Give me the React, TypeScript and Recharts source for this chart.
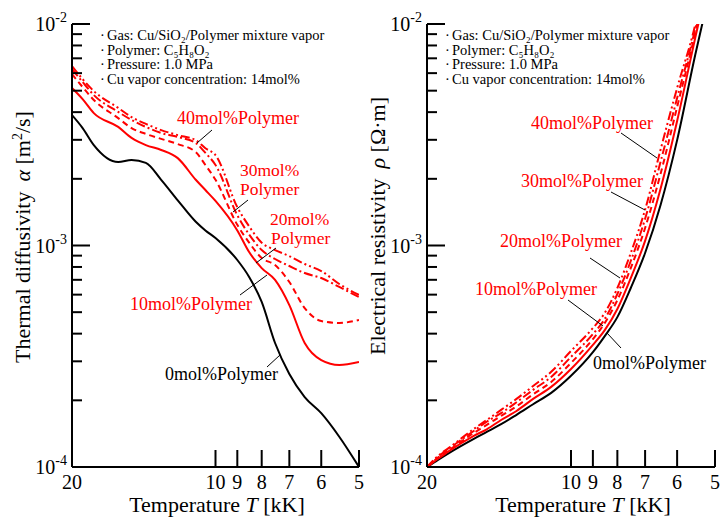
import React from "react";
import { LineChart, Line, XAxis, YAxis } from "recharts";

// temperature grid [kK] for each panel
const leftTemps = [20, 19, 18, 16, 15, 14, 13, 12, 11, 10.5, 10, 9, 8.5, 8, 7.5, 7, 6.5, 6, 5.5, 5];
const rightTemps = [20, 19, 18, 16, 15, 14, 13, 12, 11, 10, 9, 8.5, 8, 7.5, 7, 6.5, 6, 5.5, 5.3];

// thermal diffusivity alpha [m2/s]
const alpha0 = [3.88e-3, 3.39e-3, 2.84e-3, 2.38e-3, 2.43e-3, 2.36e-3, 1.98e-3, 1.6e-3, 1.28e-3, 1.17e-3, 1.08e-3, 8.6e-4, 7.21e-4, 5.56e-4, 3.63e-4, 2.63e-4, 2.07e-4, 1.75e-4, 1.37e-4, 1.0e-4];
const alpha10 = [5.14e-3, 4.58e-3, 3.96e-3, 3.43e-3, 3.06e-3, 2.84e-3, 2.7e-3, 2.48e-3, 1.98e-3, 1.78e-3, 1.59e-3, 1.17e-3, 9.34e-4, 7.91e-4, 6.99e-4, 5.38e-4, 3.63e-4, 3.04e-4, 2.89e-4, 2.98e-4];
const alpha20 = [5.94e-3, 5.19e-3, 4.54e-3, 3.76e-3, 3.39e-3, 3.19e-3, 3.03e-3, 2.87e-3, 2.64e-3, 2.31e-3, 1.98e-3, 1.24e-3, 1.03e-3, 8.78e-4, 8.16e-4, 6.84e-4, 5.22e-4, 4.56e-4, 4.47e-4, 4.61e-4];
const alpha30 = [6.26e-3, 5.47e-3, 4.78e-3, 4.01e-3, 3.69e-3, 3.43e-3, 3.22e-3, 3.09e-3, 2.9e-3, 2.62e-3, 2.31e-3, 1.37e-3, 1.12e-3, 9.54e-4, 8.69e-4, 8.08e-4, 7.51e-4, 7.13e-4, 6.5e-4, 5.85e-4];
const alpha40 = [6.46e-3, 5.64e-3, 4.98e-3, 4.18e-3, 3.8e-3, 3.54e-3, 3.32e-3, 3.15e-3, 2.99e-3, 2.75e-3, 2.56e-3, 1.49e-3, 1.22e-3, 1.03e-3, 9.54e-4, 8.96e-4, 8.25e-4, 7.67e-4, 6.7e-4, 5.98e-4];

// electrical resistivity rho [Ohm m]
const rho0 = [1.0e-4, 1.075e-4, 1.156e-4, 1.337e-4, 1.44e-4, 1.56e-4, 1.72e-4, 1.92e-4, 2.16e-4, 2.58e-4, 3.3e-4, 3.9e-4, 4.75e-4, 6.43e-4, 9.25e-4, 1.52e-3, 2.99e-3, 7.24e-3, 1.03e-2];
const rho10 = [1.0e-4, 1.086e-4, 1.18e-4, 1.38e-4, 1.48e-4, 1.63e-4, 1.79e-4, 2.03e-4, 2.3e-4, 2.77e-4, 3.56e-4, 4.15e-4, 5.17e-4, 7.13e-4, 1.05e-3, 1.8e-3, 3.65e-3, 8.65e-3, 1.23e-2];
const rho20 = [1.0e-4, 1.1e-4, 1.19e-4, 1.42e-4, 1.55e-4, 1.7e-4, 1.88e-4, 2.13e-4, 2.42e-4, 2.95e-4, 3.78e-4, 4.47e-4, 5.67e-4, 7.91e-4, 1.2e-3, 2.1e-3, 4.22e-3, 9.11e-3, 1.3e-2];
const rho30 = [1.0e-4, 1.11e-4, 1.21e-4, 1.45e-4, 1.6e-4, 1.75e-4, 1.96e-4, 2.23e-4, 2.55e-4, 3.14e-4, 3.98e-4, 4.66e-4, 6.04e-4, 8.51e-4, 1.32e-3, 2.38e-3, 4.63e-3, 9.49e-3, 1.35e-2];
const rho40 = [1.0e-4, 1.12e-4, 1.22e-4, 1.48e-4, 1.63e-4, 1.81e-4, 2.03e-4, 2.32e-4, 2.69e-4, 3.34e-4, 4.24e-4, 4.96e-4, 6.43e-4, 9.25e-4, 1.45e-3, 2.7e-3, 5.14e-3, 9.9e-3, 1.42e-2];

// ticks
const tempTicks = [20, 10, 9, 8, 7, 6, 5];
const logTicks = [
  1e-4, 2e-4, 3e-4, 4e-4, 5e-4, 6e-4, 7e-4, 8e-4, 9e-4,
  1e-3, 2e-3, 3e-3, 4e-3, 5e-3, 6e-3, 7e-3, 8e-3, 9e-3, 1e-2,
];

// condition notes shown in both panels
const infoLines = [
  "Gas: Cu/SiO₂/Polymer mixture vapor",
  "Polymer: C₅H₈O₂",
  "Pressure: 1.0 MPa",
  "Cu vapor concentration: 14mol%",
];

const FONT = '"Liberation Serif", "Times New Roman", serif';
const RED = "#ff0000";

// line styles
const series = [
  { key: "p0", color: "#000", dash: undefined as string | undefined },
  { key: "p10", color: RED, dash: undefined },
  { key: "p20", color: RED, dash: "6 4" },
  { key: "p30", color: RED, dash: "9 3 2 3" },
  { key: "p40", color: RED, dash: "9 3 2 3 2 3" },
];

const leftRows = leftTemps.map((T, i) => ({
  T, p0: alpha0[i], p10: alpha10[i], p20: alpha20[i], p30: alpha30[i], p40: alpha40[i],
}));
const rightRows = rightTemps.map((T, i) => ({
  T, p0: rho0[i], p10: rho10[i], p20: rho20[i], p30: rho30[i], p40: rho40[i],
}));

// inward y ticks, labels only on decades
const YTick = (props: any) => {
  const { x, y, payload } = props;
  const lg = Math.log10(payload.value);
  const exp = Math.round(lg);
  const major = Math.abs(lg - exp) < 1e-6;
  return (
    <g>
      <line x1={x} y1={y} x2={x + (major ? 18 : 10)} y2={y} stroke="#000" strokeWidth={2} />
      {major && (
        <text x={x - 5} y={y + 7} textAnchor="end" fontFamily={FONT} fontSize={20} fill="#000">
          10<tspan dy={-9} fontSize={14}>{exp}</tspan>
        </text>
      )}
    </g>
  );
};

// inward x ticks
const XTick = (props: any) => {
  const { x, y, payload } = props;
  return (
    <g>
      {payload.value !== 20 && (
        <line x1={x} y1={y} x2={x} y2={y - 17} stroke="#000" strokeWidth={2} />
      )}
      <text x={x} y={y + 22} textAnchor="middle" fontFamily={FONT} fontSize={20} fill="#000">
        {payload.value}
      </text>
    </g>
  );
};

const Panel = ({ rows, width, margin }: { rows: any[]; width: number; margin: any }) => (
  <LineChart width={width} height={520} data={rows} margin={margin}>
    <XAxis
      dataKey="T"
      type="number"
      scale="log"
      domain={[5, 20]}
      reversed
      allowDataOverflow
      ticks={tempTicks}
      interval={0}
      tick={XTick}
      tickLine={false}
      tickSize={0}
      tickMargin={0}
      height={30}
      axisLine={{ stroke: "#000", strokeWidth: 2 }}
    />
    <YAxis
      type="number"
      scale="log"
      domain={[1e-4, 1e-2]}
      allowDataOverflow
      ticks={logTicks}
      interval={0}
      tick={YTick}
      tickLine={false}
      tickSize={0}
      tickMargin={0}
      width={60}
      axisLine={{ stroke: "#000", strokeWidth: 2 }}
    />
    {series.map((s) => (
      <Line
        key={s.key}
        dataKey={s.key}
        type="monotone"
        stroke={s.color}
        strokeWidth={2}
        strokeDasharray={s.dash}
        dot={false}
        isAnimationActive={false}
      />
    ))}
  </LineChart>
);

const Info = ({ x }: { x: number }) => {
  const ys = [40, 54.5, 69, 84];
  return (
    <g fontFamily={FONT} fontSize={14.5} fill="#000">
      {infoLines.map((t, i) => (
        <React.Fragment key={t}>
          <text x={x - 7} y={ys[i]}>·</text>
          <text x={x} y={ys[i]}>{t}</text>
        </React.Fragment>
      ))}
    </g>
  );
};

const Leader = ({ p }: { p: number[] }) => (
  <line x1={p[0]} y1={p[1]} x2={p[2]} y2={p[3]} stroke="#000" strokeWidth={1} />
);

const Overlay = () => (
  <svg
    width={726}
    height={520}
    style={{ position: "absolute", left: 0, top: 0, pointerEvents: "none" }}
  >
    <Info x={107} />
    <Info x={452} />

    {/* left panel labels */}
    <g fontFamily={FONT} fontSize={18} fill={RED}>
      <text x={177} y={124}>40mol%Polymer</text>
      <text x={130} y={310}>10mol%Polymer</text>
      <text x={165} y={380} fill="#000">0mol%Polymer</text>
    </g>
    <g fontFamily={FONT} fontSize={17.5} fill={RED}>
      <text x={240} y={176}>30mol%</text>
      <text x={240} y={195}>Polymer</text>
      <text x={270} y={225}>20mol%</text>
      <text x={271} y={244}>Polymer</text>
    </g>
    <Leader p={[212, 130, 197, 143]} />
    <Leader p={[248, 200, 233, 212]} />
    <Leader p={[276, 248, 256, 263]} />
    <Leader p={[240, 295, 267, 275]} />
    <Leader p={[267, 367, 280, 355]} />

    {/* right panel labels */}
    <g fontFamily={FONT} fontSize={18} fill={RED}>
      <text x={531} y={129}>40mol%Polymer</text>
      <text x={521} y={187}>30mol%Polymer</text>
      <text x={500} y={247}>20mol%Polymer</text>
      <text x={475} y={295}>10mol%Polymer</text>
      <text x={593} y={369} fill="#000">0mol%Polymer</text>
    </g>
    <Leader p={[621, 133, 657, 158]} />
    <Leader p={[611, 192, 645, 210]} />
    <Leader p={[590, 258, 620, 278]} />
    <Leader p={[568, 300, 603, 326]} />
    <Leader p={[607, 333, 621, 348]} />

    {/* axis titles */}
    <g fontFamily={FONT} fontSize={22} fill="#000">
      <text x={217} y={512} textAnchor="middle">
        Temperature <tspan fontStyle="italic">T</tspan> [kK]
      </text>
      <text x={583} y={512} textAnchor="middle">
        Temperature <tspan fontStyle="italic">T</tspan> [kK]
      </text>
      <text x={30} y={237} textAnchor="middle" transform="rotate(-90 30 237)">
        Thermal diffusivity<tspan dx={10} fontStyle="italic">α</tspan> [m<tspan fontSize={14} dy={-8}>2</tspan><tspan dy={8}>/s]</tspan>
      </text>
      <text x={385} y={226} textAnchor="middle" transform="rotate(-90 385 226)">
        Electrical resistivity<tspan dx={10} fontStyle="italic">ρ</tspan> [Ω·m]
      </text>
    </g>
  </svg>
);

export default function App() {
  return (
    <div style={{ position: "relative", width: 726, height: 520, background: "#fff" }}>
      <style>{"body{margin:0}"}</style>
      <div style={{ position: "absolute", left: 0, top: 0 }}>
        <Panel rows={leftRows} width={372} margin={{ top: 24, right: 13, bottom: 23, left: 12 }} />
      </div>
      <div style={{ position: "absolute", left: 363, top: 0 }}>
        <Panel rows={rightRows} width={363} margin={{ top: 24, right: 11, bottom: 23, left: 4 }} />
      </div>
      <Overlay />
    </div>
  );
}
